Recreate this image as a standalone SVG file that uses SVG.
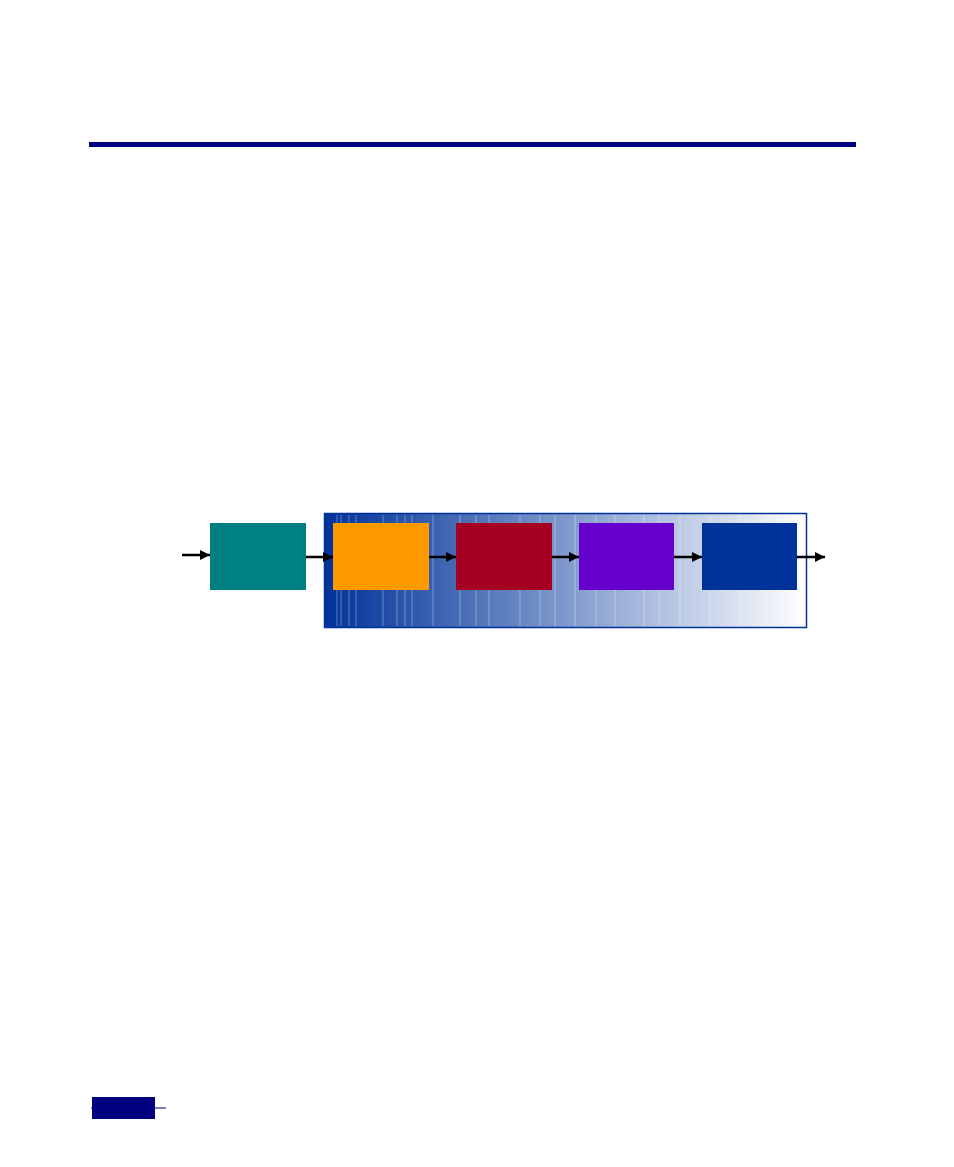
<svg xmlns="http://www.w3.org/2000/svg" width="954" height="1167" viewBox="0 0 954 1167">
<defs>
<linearGradient id="bg" x1="0" y1="0" x2="1" y2="0">
<stop offset="0" stop-color="#003399"/>
<stop offset="0.5" stop-color="#7f99cc"/>
<stop offset="1" stop-color="#ffffff"/>
</linearGradient>
<marker id="ah" markerWidth="10" markerHeight="10" refX="10" refY="5" orient="auto" markerUnits="userSpaceOnUse">
<path d="M0,0 L10,5 L0,10 Z" fill="#000"/>
</marker>
<style>
.node{stroke:none}
.conn{stroke:#000;stroke-width:2.5;fill:none;marker-end:url(#ah)}
.streak{stroke:#ffffff;stroke-opacity:0.35;stroke-width:1}
</style>
</defs>
<rect width="954" height="1167" fill="#fff"/>
<rect id="top-bar" x="89" y="142" width="767" height="5" fill="#000080"/>
<g id="container">
<rect x="324.5" y="513.5" width="482" height="114" fill="url(#bg)" stroke="#003399" stroke-width="1.5"/>
<g class="streak">
<line x1="337" y1="515" x2="337" y2="626"/><line x1="341" y1="515" x2="341" y2="626"/><line x1="349" y1="515" x2="349" y2="626"/>
<line x1="356" y1="515" x2="356" y2="626"/><line x1="383" y1="515" x2="383" y2="626"/><line x1="397" y1="515" x2="397" y2="626"/>
<line x1="405" y1="515" x2="405" y2="626"/><line x1="412" y1="515" x2="412" y2="626"/><line x1="433" y1="515" x2="433" y2="626"/>
<line x1="460" y1="515" x2="460" y2="626"/><line x1="476" y1="515" x2="476" y2="626"/><line x1="489" y1="515" x2="489" y2="626"/>
<line x1="520" y1="515" x2="520" y2="626"/><line x1="540" y1="515" x2="540" y2="626"/><line x1="555" y1="515" x2="555" y2="626"/>
<line x1="575" y1="515" x2="575" y2="626"/><line x1="596" y1="515" x2="596" y2="626"/><line x1="615" y1="515" x2="615" y2="626"/>
<line x1="644" y1="515" x2="644" y2="626"/><line x1="659" y1="515" x2="659" y2="626"/><line x1="680" y1="515" x2="680" y2="626"/>
<line x1="710" y1="515" x2="710" y2="626"/><line x1="740" y1="515" x2="740" y2="626"/><line x1="765" y1="515" x2="765" y2="626"/>
</g>
</g>
<g id="node-1"><rect class="node" x="210" y="523" width="96" height="67" fill="#008080"/></g>
<g id="node-2"><rect class="node" x="333" y="523" width="96" height="67" fill="#ff9900"/></g>
<g id="node-3"><rect class="node" x="456" y="523" width="96" height="67" fill="#a50021"/></g>
<g id="node-4"><rect class="node" x="579" y="523" width="95" height="67" fill="#6600cc"/></g>
<g id="node-5"><rect class="node" x="702" y="523" width="95" height="67" fill="#003399"/></g>
<g id="connectors">
<line class="conn" x1="182" y1="555" x2="210" y2="555"/>
<line class="conn" x1="306" y1="557" x2="333" y2="557"/>
<line class="conn" x1="429" y1="557" x2="456" y2="557"/>
<line class="conn" x1="552" y1="557" x2="579" y2="557"/>
<line class="conn" x1="674" y1="557" x2="702" y2="557"/>
<line class="conn" x1="797" y1="557" x2="825" y2="557"/>
</g>
<g id="footer">
<line x1="91" y1="1108" x2="166" y2="1108" stroke="#000080" stroke-width="1"/>
<rect x="92" y="1097" width="63" height="22" fill="#000080"/>
</g>
</svg>
